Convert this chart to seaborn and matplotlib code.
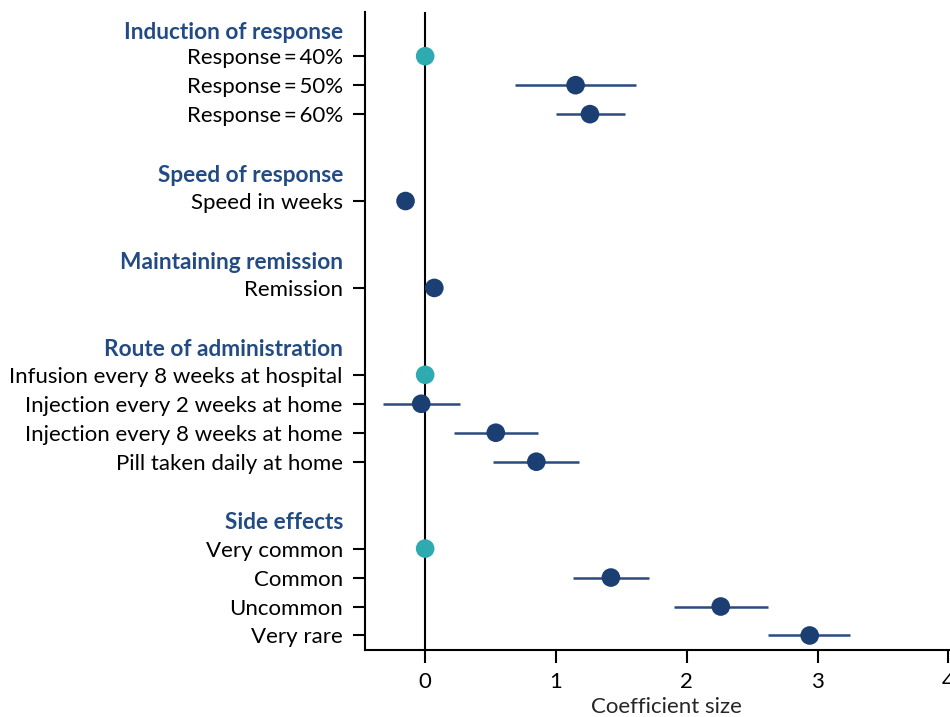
import matplotlib
matplotlib.use("Agg")
import matplotlib.pyplot as plt
import seaborn as sns
import pandas as pd
import numpy as np

# groups and their attribute levels
groups = ["Induction of response", "Speed of response", "Maintaining remission",
          "Route of administration", "Side effects"]
levels = [
    ["Response\u2009=\u200940%", "Response\u2009=\u200950%", "Response\u2009=\u200960%"],
    ["Speed in weeks"],
    ["Remission"],
    ["Infusion every 8 weeks at hospital", "Injection every 2 weeks at home",
     "Injection every 8 weeks at home", "Pill taken daily at home"],
    ["Very common", "Common", "Uncommon", "Very rare"],
]

# coefficient estimates and 95% CI (nan = reference level)
coef = [0.0, 1.15, 1.26, -0.15, 0.07, 0.0, -0.03, 0.54, 0.85, 0.0, 1.42, 2.26, 2.94]
ci_low = [np.nan, 0.69, 1.00, np.nan, np.nan, np.nan, -0.32, 0.22, 0.52, np.nan, 1.13, 1.90, 2.62]
ci_high = [np.nan, 1.61, 1.53, np.nan, np.nan, np.nan, 0.27, 0.86, 1.18, np.nan, 1.71, 2.62, 3.25]
is_ref = [True, False, False, False, False, True, False, False, False, True, False, False, False]

# row layout: header one row above its levels, one blank row between groups
rows, labels, header_rows = [], [], []
pos = -1
for i, (g, lv) in enumerate(zip(groups, levels)):
    if i > 0:
        pos += 2
    header_rows.append(pos)
    for name in lv:
        pos += 1
        rows.append(pos)
        labels.append(name)

df = pd.DataFrame({"label": labels, "row": rows, "coef": coef,
                   "low": ci_low, "high": ci_high,
                   "kind": ["Reference" if r else "Estimate" for r in is_ref]})

navy = "#1b3f73"
teal = "#2eaab1"
head_col = "#234b83"

sns.set_style("ticks")
plt.rcParams["font.family"] = ["Lato", "DejaVu Sans"]
fs = 16

fig = plt.figure(figsize=(9.5, 7.17), dpi=100)
ax = fig.add_axes([0.3842, 0.0935, 0.6347, 0.8895])

ax.axvline(0, color="black", lw=1.5, zorder=1)
ci = df.dropna()
ax.hlines(ci["row"], ci["low"], ci["high"], color="#2b4b80", lw=1.8, zorder=2)
sns.scatterplot(data=df, x="coef", y="row", hue="kind",
                palette={"Estimate": navy, "Reference": teal},
                s=180, linewidth=0, legend=False, ax=ax, zorder=3)

ax.set_xlim(-0.46, 4.15)
ax.set_ylim(20.5, -1.52)
ax.set_xticks([0, 1, 2, 3, 4])
ax.set_yticks(rows)
ax.set_yticklabels(labels)
ax.tick_params(axis="both", length=9, width=1.5, color="black",
               labelsize=fs, labelcolor="black", pad=7)
ax.tick_params(axis="x", pad=7)
ax.set_xlabel("Coefficient size", fontsize=fs, labelpad=3.5)
ax.set_ylabel("")

for i, (hdr, r) in enumerate(zip(groups, header_rows)):
    dy = -3.5 if i == 0 else -2.3
    ax.annotate(hdr, xy=(0, r), xycoords=("axes fraction", "data"),
                xytext=(-15.8, dy), textcoords="offset points",
                ha="right", va="center", fontsize=16.3, fontweight="bold",
                color=head_col)

for side in ["top", "right"]:
    ax.spines[side].set_visible(False)
for side in ["left", "bottom"]:
    ax.spines[side].set_linewidth(1.5)
    ax.spines[side].set_color("black")

fig.savefig("out.png", dpi=100)
